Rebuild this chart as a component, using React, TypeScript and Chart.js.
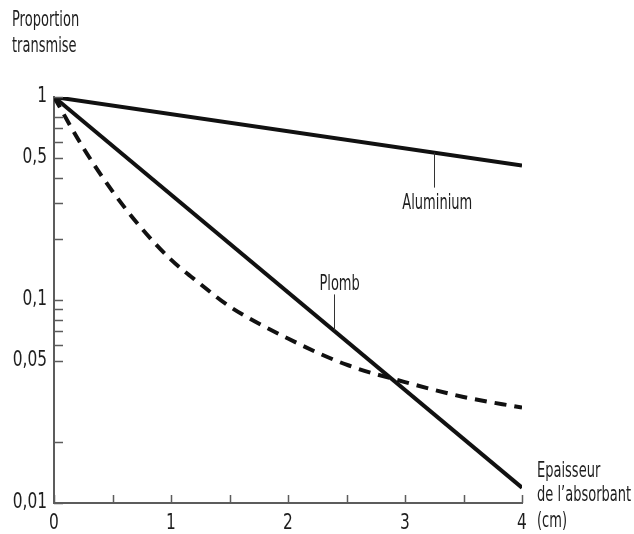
import React, { useEffect, useRef } from 'react';
import { Chart, registerables } from 'chart.js';

Chart.register(...registerables);

const FONT = '"DejaVu Sans", "Liberation Sans", sans-serif';
const SX_TEXT = 0.62; // horizontal condensing of the lettering
const SX_TICK = 0.7;
const INK = '#1e1e1e';
const AXIS = '#5c5c5c';

// Data
const thicknessEnds = [0, 4];
const aluminium = [1, 0.46];
const plomb = [1, 0.0119];
const mixedX = [0, 0.25, 0.5, 0.75, 1, 1.25, 1.5, 2, 2.5, 3, 3.5, 4];
const mixedY = [1, 0.562, 0.343, 0.225, 0.158, 0.12, 0.093, 0.0646, 0.048, 0.0394, 0.0333, 0.0295];

const yTickValues = [1, 0.8, 0.7, 0.6, 0.5, 0.4, 0.3, 0.2, 0.1, 0.09, 0.08, 0.07, 0.06, 0.05, 0.02, 0.01];
const yTickLabels = ['1', '', '', '', '0,5', '', '', '', '0,1', '', '', '', '', '0,05', '', '0,01'];
const xTickValues = [0, 0.5, 1, 1.5, 2, 2.5, 3, 3.5, 4];
const xTickLabels = ['0', '', '1', '', '2', '', '3', '', '4'];

const seriesLabels = ['Aluminium', 'Plomb'];
const yTitle = ['Proportion', 'transmise'];
const xTitle = ['Epaisseur', 'de l\u2019absorbant', '(cm)'];
const leaderX = [3.25, 2.39];

function lineYAt(chart: any, dsIndex: number, px: number) {
  const pts = chart.getDatasetMeta(dsIndex).data;
  const p0 = pts[0], p1 = pts[pts.length - 1];
  return p0.y + (p1.y - p0.y) * (px - p0.x) / (p1.x - p0.x);
}

function drawText(ctx: CanvasRenderingContext2D, text: string, x: number, y: number, align: CanvasTextAlign, size: number, sx: number) {
  ctx.save();
  ctx.translate(x, y);
  ctx.scale(sx, 1);
  ctx.font = `${size}px ${FONT}`;
  ctx.textAlign = align;
  ctx.textBaseline = 'alphabetic';
  ctx.fillStyle = INK;
  ctx.fillText(text, 0, 0);
  ctx.restore();
}

const decorPlugin = {
  id: 'decor',
  afterDraw(chart: any) {
    const ctx = chart.ctx;
    const xs = chart.scales.x;
    const ys = chart.scales.y;
    const area = chart.chartArea;
    ctx.save();
    // inward tick marks
    ctx.strokeStyle = AXIS;
    ctx.lineWidth = 1.5;
    ctx.beginPath();
    yTickValues.forEach((v) => {
      const py = Math.round(ys.getPixelForValue(v)) + 0.5;
      ctx.moveTo(area.left, py);
      ctx.lineTo(area.left + 9, py);
    });
    xTickValues.forEach((v) => {
      const px = Math.round(xs.getPixelForValue(v)) + 0.5;
      ctx.moveTo(px, area.bottom);
      ctx.lineTo(px, area.bottom - 8);
    });
    ctx.stroke();

    // tick labels
    yTickValues.forEach((v, i) => {
      if (!yTickLabels[i]) return;
      drawText(ctx, yTickLabels[i], area.left - 7, ys.getPixelForValue(v) + 5, 'right', 22, SX_TICK);
    });
    xTickValues.forEach((v, i) => {
      if (!xTickLabels[i]) return;
      drawText(ctx, xTickLabels[i], xs.getPixelForValue(v), area.bottom + 26, 'center', 22, SX_TICK);
    });

    // leader lines + series labels
    ctx.strokeStyle = '#333';
    ctx.lineWidth = 1;
    {
      const px = xs.getPixelForValue(leaderX[0]);
      const py = lineYAt(chart, 0, px);
      ctx.beginPath();
      ctx.moveTo(Math.round(px) + 0.5, py);
      ctx.lineTo(Math.round(px) + 0.5, py + 35);
      ctx.stroke();
      drawText(ctx, seriesLabels[0], px + 3, py + 56, 'center', 21, SX_TEXT);
    }
    {
      const px = xs.getPixelForValue(leaderX[1]);
      const py = lineYAt(chart, 1, px);
      ctx.beginPath();
      ctx.moveTo(Math.round(px) + 0.5, py);
      ctx.lineTo(Math.round(px) + 0.5, py - 36);
      ctx.stroke();
      drawText(ctx, seriesLabels[1], px + 6, py - 40, 'center', 21, SX_TEXT);
    }

    // axis titles
    drawText(ctx, yTitle[0], 12, 26, 'left', 21, SX_TEXT);
    drawText(ctx, yTitle[1], 12, 52, 'left', 21, SX_TEXT);
    drawText(ctx, xTitle[0], 537, 477, 'left', 21, SX_TEXT);
    drawText(ctx, xTitle[1], 537, 501, 'left', 21, SX_TEXT);
    drawText(ctx, xTitle[2], 537, 527, 'left', 21, SX_TEXT);
    ctx.restore();
  },
};

export default function App() {
  const ref = useRef<HTMLCanvasElement | null>(null);
  useEffect(() => {
    if (!ref.current) return;
    const chart = new Chart(ref.current, {
      type: 'line',
      data: {
        datasets: [
          {
            label: seriesLabels[0],
            data: thicknessEnds.map((x, i) => ({ x, y: aluminium[i] })),
            borderColor: '#111',
            borderWidth: 4,
            pointRadius: 0,
            fill: false,
          },
          {
            label: seriesLabels[1],
            data: thicknessEnds.map((x, i) => ({ x, y: plomb[i] })),
            borderColor: '#111',
            borderWidth: 4,
            pointRadius: 0,
            fill: false,
          },
          {
            label: 'mixed',
            data: mixedX.map((x, i) => ({ x, y: mixedY[i] })),
            borderColor: '#111',
            borderWidth: 4,
            borderDash: [12, 8],
            pointRadius: 0,
            fill: false,
            cubicInterpolationMode: 'monotone',
          },
        ],
      },
      options: {
        animation: false,
        responsive: false,
        maintainAspectRatio: false,
        layout: { padding: { top: 97, right: 112, left: 0, bottom: 0 } },
        plugins: { legend: { display: false }, tooltip: { enabled: false } },
        scales: {
          x: {
            type: 'linear',
            min: 0,
            max: 4,
            afterBuildTicks: (s: any) => {
              s.ticks = xTickValues.map((v) => ({ value: v }));
            },
            afterFit: (s: any) => {
              s.height = 31;
            },
            grid: { display: false, drawTicks: false },
            border: { display: true, color: AXIS, width: 2 },
            ticks: { display: false },
          },
          y: {
            type: 'logarithmic',
            min: 0.01,
            max: 1,
            afterBuildTicks: (s: any) => {
              s.ticks = yTickValues.map((v) => ({ value: v }));
            },
            afterFit: (s: any) => {
              s.width = 54;
            },
            grid: { display: false, drawTicks: false },
            border: { display: true, color: AXIS, width: 2 },
            ticks: { display: false },
          },
        },
      },
      plugins: [decorPlugin],
    } as any);
    return () => chart.destroy();
  }, []);
  return (
    <div style={{ position: 'fixed', left: 0, top: 0, width: 634, height: 534, background: '#fff' }}>
      <canvas ref={ref} width={634} height={534} style={{ display: 'block' }} />
    </div>
  );
}
